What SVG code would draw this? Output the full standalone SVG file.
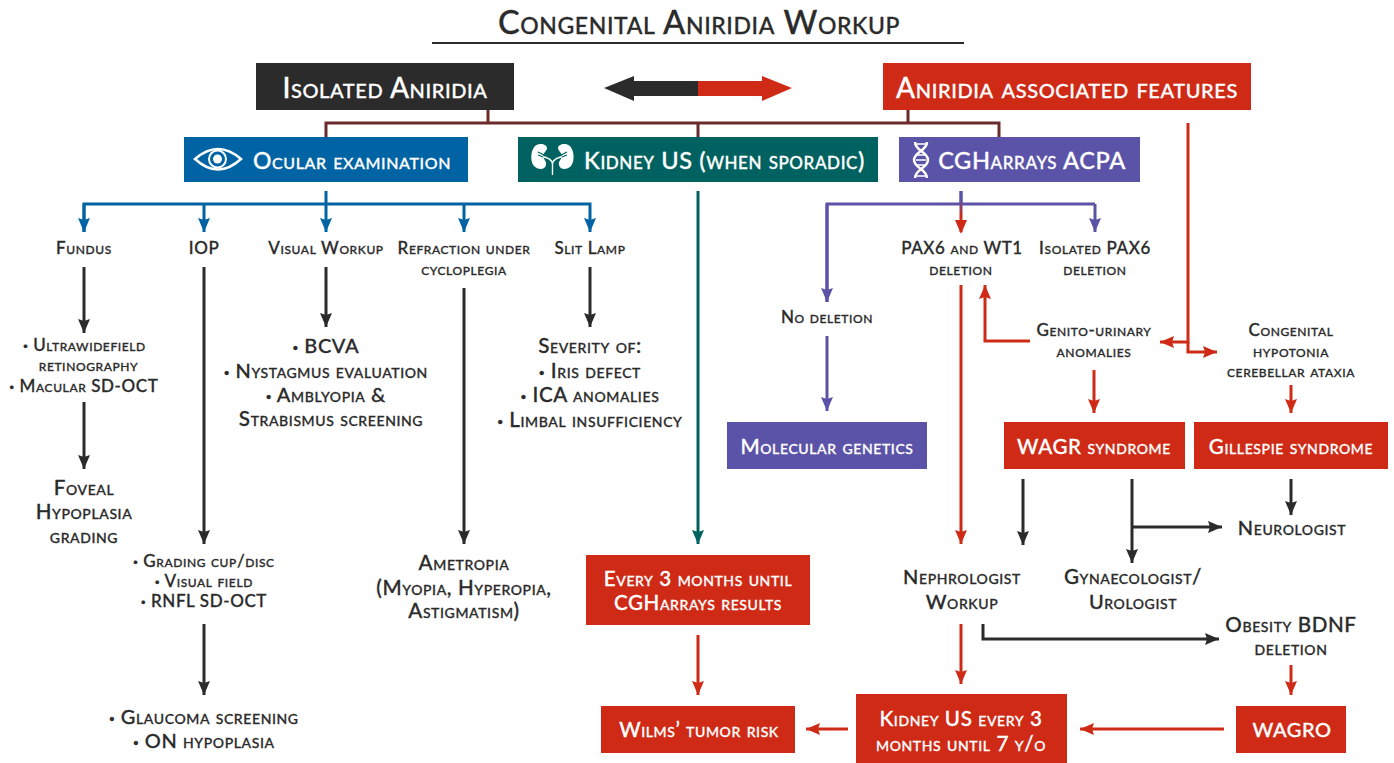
<svg xmlns="http://www.w3.org/2000/svg" width="1394" height="763" viewBox="0 0 1394 763">
<style>
text{font-family:"Lato","Liberation Sans",sans-serif;font-variant:small-caps;text-anchor:middle;fill:#2b2b2b;stroke:#2b2b2b;stroke-width:.3px;font-weight:500;letter-spacing:.6px}
.w{fill:#fff;stroke:#fff}.t{font-size:32.6px}.h{font-size:28px}.m{font-size:23px}.m2{font-size:23.6px}.l{font-size:20px}.l2{font-size:20.6px}.s{font-size:17px}
.b{font-family:"Liberation Sans",sans-serif;font-size:.75em}
.bk{fill:#2b2b2b}.rd{fill:#cf2a16}.bl{fill:#0063a3}.te{fill:#006260}.pu{fill:#5b53a7}
.c{fill:none;stroke-width:3}
.cb{stroke:#0063a3}.ck{stroke:#2b2b2b}.cr{stroke:#cf2a16}.ct{stroke:#006260}.cp{stroke:#5b53a7}.cm{stroke:#6b2b2b}
</style>
<defs>
<marker id="ab" markerUnits="userSpaceOnUse" markerWidth="16" markerHeight="16" refX="14" refY="6" orient="auto"><path d="M0 0L14 6L0 12L2 6Z" fill="#0063a3"/></marker>
<marker id="ak" markerUnits="userSpaceOnUse" markerWidth="16" markerHeight="16" refX="14" refY="6" orient="auto"><path d="M0 0L14 6L0 12L2 6Z" fill="#2b2b2b"/></marker>
<marker id="ar" markerUnits="userSpaceOnUse" markerWidth="16" markerHeight="16" refX="14" refY="6" orient="auto"><path d="M0 0L14 6L0 12L2 6Z" fill="#cf2a16"/></marker>
<marker id="at" markerUnits="userSpaceOnUse" markerWidth="16" markerHeight="16" refX="14" refY="6" orient="auto"><path d="M0 0L14 6L0 12L2 6Z" fill="#006260"/></marker>
<marker id="ap" markerUnits="userSpaceOnUse" markerWidth="16" markerHeight="16" refX="14" refY="6" orient="auto"><path d="M0 0L14 6L0 12L2 6Z" fill="#5b53a7"/></marker>
<linearGradient id="pr" gradientUnits="userSpaceOnUse" x1="0" y1="200" x2="0" y2="216"><stop offset="0" stop-color="#5b53a7"/><stop offset="1" stop-color="#cf2a16"/></linearGradient>
</defs>

<g id="title"><text class="t" x="699" y="34">Congenital Aniridia Workup</text><rect x="432" y="42" width="532" height="2" fill="#2b2b2b"/></g>

<g id="connectors">
<path class="c cm" d="M326 137V123H999V137M488 110V123M698 123V137M908 110V123"/>
<path class="c cb" d="M326 191V204"/>
<path class="c cb" d="M84 232V204H590V232" marker-end="url(#ab)"/>
<path class="c cb" d="M84 204V232" marker-end="url(#ab)"/>
<path class="c cb" d="M204 204V232" marker-end="url(#ab)"/>
<path class="c cb" d="M326 204V232" marker-end="url(#ab)"/>
<path class="c cb" d="M464 204V232" marker-end="url(#ab)"/>
<path class="c ct" d="M698 191V544" marker-end="url(#at)"/>
<path class="c cp" d="M961 191V204M827 302V204H1095"/>
<path class="c cp" d="M827 204V302" marker-end="url(#ap)"/>
<path class="c cp" d="M1095 204V232" marker-end="url(#ap)"/>
<path d="M961 191V232" fill="none" stroke="url(#pr)" stroke-width="3"/>
<path d="M955 220L961 234L967 220Z" class="rd"/>
<path class="c cp" d="M827 336V411" marker-end="url(#ap)"/>
<path class="c ck" d="M84 267V333" marker-end="url(#ak)"/>
<path class="c ck" d="M84 402V469" marker-end="url(#ak)"/>
<path class="c ck" d="M204 267V544" marker-end="url(#ak)"/>
<path class="c ck" d="M204 624V695" marker-end="url(#ak)"/>
<path class="c ck" d="M326 267V327" marker-end="url(#ak)"/>
<path class="c ck" d="M464 288V544" marker-end="url(#ak)"/>
<path class="c ck" d="M590 267V327" marker-end="url(#ak)"/>
<path class="c cr" d="M698 635V695" marker-end="url(#ar)"/>
<path class="c cr" d="M848 729H806" marker-end="url(#ar)"/>
<path class="c cr" d="M1224 729H1080" marker-end="url(#ar)"/>
<path class="c cr" d="M961 285V544" marker-end="url(#ar)"/>
<path class="c cr" d="M961 624V684" marker-end="url(#ar)"/>
<path class="c cr" d="M1030 341H985V285" marker-end="url(#ar)"/>
<path class="c cr" d="M1188 123V342H1160" marker-end="url(#ar)"/>
<path class="c cr" d="M1188 342V352H1217" marker-end="url(#ar)"/>
<path class="c cr" d="M1094 370V413" marker-end="url(#ar)"/>
<path class="c cr" d="M1291 385V413" marker-end="url(#ar)"/>
<path class="c cr" d="M1291 665V695" marker-end="url(#ar)"/>
<path class="c ck" d="M1023 479V545" marker-end="url(#ak)"/>
<path class="c ck" d="M1132 479V563" marker-end="url(#ak)"/>
<path class="c ck" d="M1132 527H1222" marker-end="url(#ak)"/>
<path class="c ck" d="M1291 479V515" marker-end="url(#ak)"/>
<path class="c ck" d="M983 624V639H1219" marker-end="url(#ak)"/>
</g>

<g id="double-arrow"><path d="M604 88L634 76V81H698V96H634V101Z" class="bk"/><path d="M698 81H762V76L792 88L762 101V96H698Z" class="rd"/></g>

<g id="isolated"><rect x="256" y="63" width="258" height="47" class="bk"/><text class="h w" x="385" y="98">Isolated Aniridia</text></g>
<g id="associated"><rect x="883" y="63" width="368" height="47" class="rd"/><text class="h w" x="1067" y="98">Aniridia associated features</text></g>

<g id="ocular"><rect x="184" y="137" width="284" height="45" class="bl"/>
<path d="M195 159Q218 139 241 159Q218 180 195 159Z" fill="none" stroke="#fff" stroke-width="2.5"/><circle cx="217.500" cy="159" r="8.500" fill="none" stroke="#fff" stroke-width="2"/><circle cx="217.500" cy="159" r="4.500" fill="#fff"/>
<text class="m w" x="352" y="169">Ocular examination</text></g>

<g id="kidney"><rect x="518" y="137" width="360" height="45" class="te"/>
<path d="M541 144C531 143 529 160 534 166C538 170 545 170 546 165C547 161 543 159 543 156C543 153 547 151 547 148C547 146 544 144 541 144Z" fill="#fff"/><path d="M564 144C574 143 576 160 571 166C567 170 560 170 559 165C558 161 562 159 562 156C562 153 558 151 558 148C558 146 561 144 564 144Z" fill="#fff"/><path d="M552.500 175V164C552.500 160 549 158 538 155M552.500 164C552.500 160 556 158 567 155" fill="none" stroke="#fff" stroke-width="1.400"/><path d="M538 155L543 157M567 155L562 157M538 152L544 155M567 152L561 155" stroke="#006260" stroke-width="1.200"/>
<text class="m2 w" x="724.500" y="169">Kidney US (when sporadic)</text></g>

<g id="cgh"><rect x="899" y="137" width="241" height="45" class="pu"/>
<path d="M915 142C915 151 928 152 928 160C928 168 915 169 915 178M927 142C927 151 914 152 914 160C914 168 927 169 927 178" fill="none" stroke="#fff" stroke-width="2.500"/><path d="M915 144H927M915 176H927M917 155H925M916 160H926M917 165H925" stroke="#fff" stroke-width="1.500"/>
<text class="m2 w" x="1032" y="169">CGHarrays ACPA</text></g>

<g id="fundus"><text class="s" x="84" y="254">Fundus</text></g>
<g id="iop"><text class="s" x="204" y="254">IOP</text></g>
<g id="visual"><text class="s" x="326" y="254">Visual Workup</text></g>
<g id="refraction"><text class="s" x="464" y="254">Refraction under</text><text class="s" x="464" y="275">cycloplegia</text></g>
<g id="slit"><text class="s" x="590" y="254">Slit Lamp</text></g>
<g id="fundus-tests"><text class="s" x="84.500" y="351"><tspan class="b">•</tspan> Ultrawidefield</text><text class="s" x="88.500" y="371">retinography</text><text class="s" x="84" y="392"><tspan class="b">•</tspan> Macular SD-OCT</text></g>
<g id="foveal"><text class="l2" x="84" y="495">Foveal</text><text class="l2" x="84" y="519">Hypoplasia</text><text class="l2" x="84" y="543">grading</text></g>
<g id="iop-tests"><text class="s" x="204" y="567"><tspan class="b">•</tspan> Grading cup/disc</text><text class="s" x="204" y="587"><tspan class="b">•</tspan> Visual field</text><text class="s" x="204" y="607"><tspan class="b">•</tspan> RNFL SD-OCT</text></g>
<g id="glaucoma"><text class="l" x="204" y="724"><tspan class="b">•</tspan> Glaucoma screening</text><text class="l" x="204" y="748"><tspan class="b">•</tspan> ON hypoplasia</text></g>
<g id="visual-tests"><text class="l" x="326" y="353"><tspan class="b">•</tspan> BCVA</text><text class="l" x="326" y="378"><tspan class="b">•</tspan> Nystagmus evaluation</text><text class="l" x="326" y="402"><tspan class="b">•</tspan> Amblyopia &amp;</text><text class="l2" x="331" y="426">Strabismus screening</text></g>
<g id="ametropia"><text class="l2" x="464" y="570">Ametropia</text><text class="l2" x="464" y="595">(Myopia, Hyperopia,</text><text class="l2" x="464" y="618">Astigmatism)</text></g>
<g id="severity"><text class="l2" x="590" y="353">Severity of:</text><text class="l2" x="590" y="378"><tspan class="b">•</tspan> Iris defect</text><text class="l2" x="590" y="402"><tspan class="b">•</tspan> ICA anomalies</text><text class="l2" x="590" y="427"><tspan class="b">•</tspan> Limbal insufficiency</text></g>
<g id="every3"><rect x="586" y="555" width="224" height="70" class="rd"/><text class="l2 w" x="698" y="586">Every 3 months until</text><text class="l2 w" x="698" y="610">CGHarrays results</text></g>
<g id="wilms"><rect x="601" y="706" width="194" height="47" class="rd"/><text class="l2 w" x="699" y="737">Wilms’ tumor risk</text></g>
<g id="kidney-us"><rect x="856" y="694" width="211" height="69" class="rd"/><text class="l2 w" x="961" y="726">Kidney US every 3</text><text class="l2 w" x="961" y="751">months until 7 y/o</text></g>
<g id="wagro"><rect x="1236" y="706" width="110" height="47" class="rd"/><text class="l w" x="1292" y="737">WAGRO</text></g>
<g id="molecular"><rect x="727" y="422" width="200" height="47" class="pu"/><text class="l2 w" x="827" y="454">Molecular genetics</text></g>
<g id="no-deletion"><text class="s" x="827" y="323">No deletion</text></g>
<g id="pax6wt1"><text class="s" x="962" y="254">PAX6 and WT1</text><text class="s" x="961" y="275">deletion</text></g>
<g id="pax6"><text class="s" x="1095" y="254">Isolated PAX6</text><text class="s" x="1095" y="275">deletion</text></g>
<g id="genito"><text class="s" x="1094" y="336">Genito-urinary</text><text class="s" x="1094" y="357">anomalies</text></g>
<g id="congenital"><text class="s" x="1291" y="336">Congenital</text><text class="s" x="1291" y="357">hypotonia</text><text class="s" x="1291" y="377">cerebellar ataxia</text></g>
<g id="wagr"><rect x="1004" y="422" width="181" height="47" class="rd"/><text class="l2 w" x="1094" y="454">WAGR syndrome</text></g>
<g id="gillespie"><rect x="1194" y="422" width="194" height="47" class="rd"/><text class="l2 w" x="1291" y="454">Gillespie syndrome</text></g>
<g id="neurologist"><text class="l" x="1292" y="535">Neurologist</text></g>
<g id="nephrologist"><text class="l" x="962" y="584">Nephrologist</text><text class="l" x="962" y="609">Workup</text></g>
<g id="gynaecologist"><text class="l2" x="1133" y="584">Gynaecologist/</text><text class="l" x="1133" y="609">Urologist</text></g>
<g id="obesity"><text class="l2" x="1291" y="632">Obesity BDNF</text><text class="l" x="1291" y="655">deletion</text></g>
</svg>
